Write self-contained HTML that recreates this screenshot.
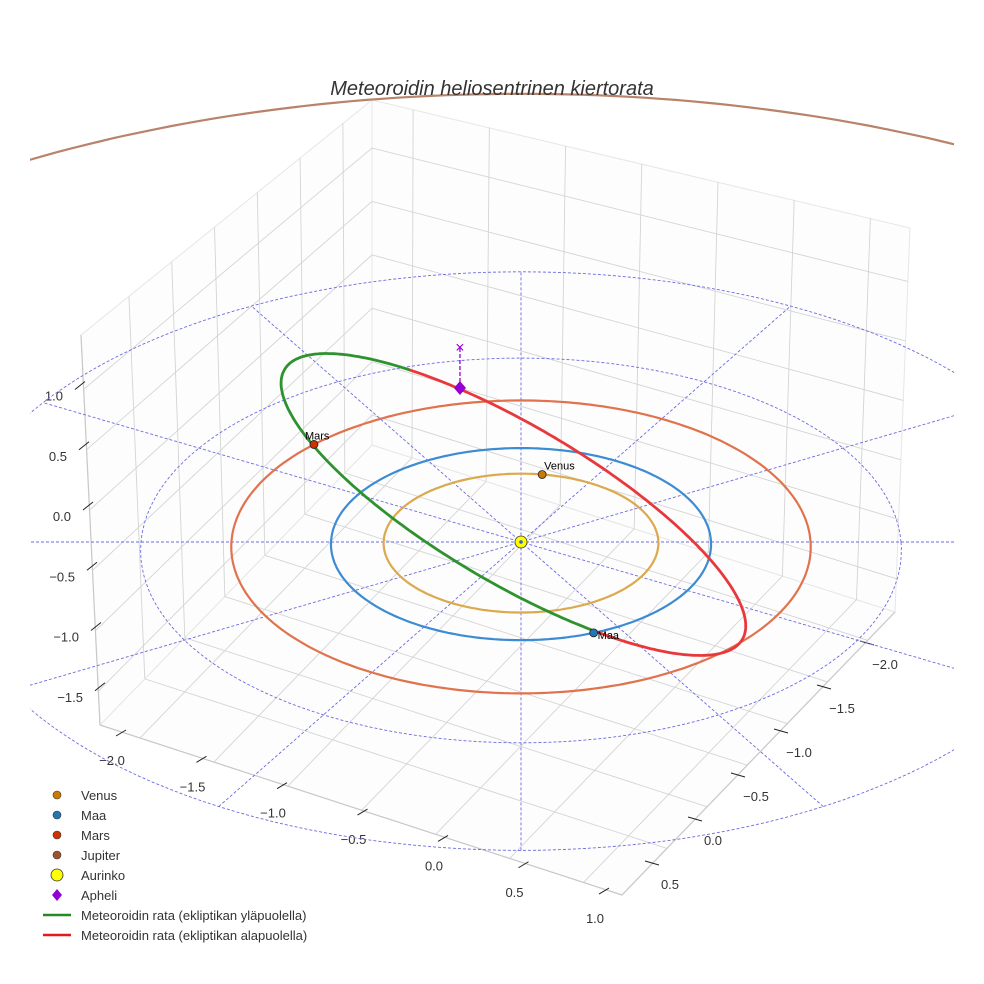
<!DOCTYPE html>
<html><head><meta charset="utf-8"><title>Meteoroidin heliosentrinen kiertorata</title>
<style>
html,body{margin:0;padding:0;background:#fff;width:984px;height:984px;overflow:hidden;}
svg{display:block;font-family:"Liberation Sans",sans-serif;}
</style></head>
<body>
<svg id="chart" width="984" height="984" viewBox="0 0 984 984" xmlns="http://www.w3.org/2000/svg">
<defs><clipPath id="clip"><rect x="30" y="0" width="924" height="984"/></clipPath></defs>
<rect width="984" height="984" fill="#fff"/>
<g id="box"></g>
<g id="ticks"></g>
<g id="data" clip-path="url(#clip)"></g>
<text x="492" y="95" text-anchor="middle" font-size="20" font-style="italic" fill="#333">Meteoroidin heliosentrinen kiertorata</text>
<g id="legend"></g>
</svg>
<script>
// ---- data ----
const planetNames = ['Venus','Maa','Mars','Jupiter'];
const planetA = [0.723, 1.0, 1.524, 5.203];
const planetAngleDeg = [81, -68, 137, 200];
const planetOrbitColors = ['#dba94e','#3d8bd2','#e0734d','#b9836b'];
const planetDotColors = ['#cc7a00','#1f77b4','#cc3300','#a0522d'];
const gridRadii = [1, 2, 3];
const gridAnglesDeg = [0, 30, 60, 90, 120, 150];
const meteorCenter = [-0.075, 0.45];
const meteorAxes = [1.93, 0.61];      // semi-major, semi-minor (AU)
const meteorDir = [-0.587, 0.809];   // major axis unit vector toward aphelion
const meteorNodesDeg = [226, 400.6]; // above-ecliptic arc between these params
const apheli = [-0.333, 1.663, 0.35];
const xTicks = [-2.0,-1.5,-1.0,-0.5,0.0,0.5,1.0];
const yTicks = [-2.0,-1.5,-1.0,-0.5,0.0,0.5];
const zTicks = [-1.5,-1.0,-0.5,0.0,0.5,1.0];
const xLimits = [-2.27, 1.26];
const yLimits = [-2.34, 1.06];
const zLimits = [-1.78, 1.45];

const NS='http://www.w3.org/2000/svg';
function el(tag, attrs, parent){const e=document.createElementNS(NS,tag);for(const k in attrs)e.setAttribute(k,attrs[k]);parent.appendChild(e);return e;}
const k=0.022;
function P(X,Y,Z){Z=Z||0;const s=1/(1+k*Y);return [521+190*X*s, 542-(96*Y+120*Z)*s];}
function fmt(v){return (v<0?'\u2212':'')+Math.abs(v).toFixed(1);}

// ---- box ----
const box=document.getElementById('box');
function bil(q,u,v){return [(1-u)*(1-v)*q[0][0]+u*(1-v)*q[1][0]+u*v*q[2][0]+(1-u)*v*q[3][0],
 (1-u)*(1-v)*q[0][1]+u*(1-v)*q[1][1]+u*v*q[2][1]+(1-u)*v*q[3][1]];}
const floorQ=[[372,445],[895,612],[622,895],[100,725]];
const leftQ=[[372,445],[100,725],[81,335],[372,100]];
const rightQ=[[372,445],[895,612],[910,228],[372,100]];
const fx=x=>(x-xLimits[0])/(xLimits[1]-xLimits[0]);
const fy=y=>(y-yLimits[0])/(yLimits[1]-yLimits[0]);
const fz=z=>(z-zLimits[0])/(zLimits[1]-zLimits[0]);
function gl(a,b,name,col,w){const l=el('line',{x1:a[0],y1:a[1],x2:b[0],y2:b[1],stroke:col||'#d4d4d4','stroke-width':w||0.9},box);

}
[floorQ,leftQ,rightQ].forEach((q,i)=>{const p=el('polygon',{points:q.map(p=>p.join(',')).join(' '),fill:'#fdfdfd',stroke:'#e6e6e6','stroke-width':1},box);

});
xTicks.forEach(x=>{gl(bil(floorQ,fx(x),0),bil(floorQ,fx(x),1),'floor-grid-x');gl(bil(rightQ,fx(x),0),bil(rightQ,fx(x),1),'wall-grid-x');});
yTicks.forEach(y=>{gl(bil(floorQ,0,fy(y)),bil(floorQ,1,fy(y)),'floor-grid-y');gl(bil(leftQ,fy(y),0),bil(leftQ,fy(y),1),'wall-grid-y');});
zTicks.forEach(z=>{gl(bil(leftQ,0,fz(z)),bil(leftQ,1,fz(z)),'wall-grid-z');gl(bil(rightQ,0,fz(z)),bil(rightQ,1,fz(z)),'wall-grid-z');});
gl(floorQ[3],floorQ[2],'x-axis-line','#c8c8c8',1.2);
gl(floorQ[1],floorQ[2],'y-axis-line','#c8c8c8',1.2);
gl(leftQ[1],leftQ[2],'z-axis-line','#c8c8c8',1.2);

// ---- ticks & labels ----
const tk=document.getElementById('ticks');
function tick(cx,cy,dx,dy,lx,ly,txt,name,anchor){
 const l=el('line',{x1:cx-dx,y1:cy-dy,x2:cx+dx,y2:cy+dy,stroke:'#222','stroke-width':1},tk);
 
 
 const t=el('text',{x:lx,y:ly,'font-size':13,fill:'#333','text-anchor':anchor||'middle'},tk);
 t.textContent=txt;
 
 }
xTicks.forEach(v=>{const lx=112+(v+2)*161,ly=765+(v+2)*52.7;tick(lx+9,ly-32,5,-3,lx,ly,fmt(v),'x-axis');});
yTicks.forEach(v=>{const lx=885-(v+2)*86,ly=669+(v+2)*88;tick(lx-18,ly-26,7,2,lx,ly,fmt(v),'y-axis');});
zTicks.forEach(v=>{const y=516-v*120.5;const ex=71-v*8;tick(ex+17,y-10,5,-4,ex,y+5,fmt(v),'z-axis','end');});

// ---- data layer ----
const g=document.getElementById('data');
function pathOf(pts){return pts.map((p,i)=>(i?'L':'M')+p[0].toFixed(1)+','+p[1].toFixed(1)).join('');}
gridRadii.forEach(r=>{const pts=[];for(let a=0;a<=360;a+=2){const t=a*Math.PI/180;pts.push(P(r*Math.cos(t),r*Math.sin(t)));}
 const p=el('path',{d:pathOf(pts),fill:'none',stroke:'#6b6be0','stroke-width':0.9,'stroke-dasharray':'3 2'},g);
 
 });
gridAnglesDeg.forEach(a=>{const t=a*Math.PI/180,R=gridRadii[gridRadii.length-1];
 const p1=P(-R*Math.cos(t),-R*Math.sin(t)),p2=P(R*Math.cos(t),R*Math.sin(t));
 const l=el('line',{x1:p1[0],y1:p1[1],x2:p2[0],y2:p2[1],stroke:'#6b6be0','stroke-width':0.9,'stroke-dasharray':'3 2'},g);
 
 });
planetNames.forEach((n,i)=>{const pts=[];for(let a=0;a<=360;a+=1){const t=a*Math.PI/180;pts.push(P(planetA[i]*Math.cos(t),planetA[i]*Math.sin(t)));}
 const p=el('path',{d:pathOf(pts),fill:'none',stroke:planetOrbitColors[i],'stroke-width':2.2},g);
 
 });
function mpt(deg){const t=deg*Math.PI/180;const v=[meteorDir[1],-meteorDir[0]];
 const a=meteorAxes[0]*Math.cos(t),b=meteorAxes[1]*Math.sin(t);
 return P(meteorCenter[0]+a*meteorDir[0]+b*v[0], meteorCenter[1]+a*meteorDir[1]+b*v[1]);}
const up=[],down=[];
for(let d=meteorNodesDeg[0];d<=meteorNodesDeg[1];d+=1)up.push(mpt(d));
up.push(mpt(meteorNodesDeg[1]));
for(let d=meteorNodesDeg[1];d<=meteorNodesDeg[0]+360;d+=1)down.push(mpt(d));
down.push(mpt(meteorNodesDeg[0]+360));
const pr=el('path',{d:pathOf(down),fill:'none',stroke:'#e8383c','stroke-width':2.8,'stroke-linecap':'round'},g);


const pg=el('path',{d:pathOf(up),fill:'none',stroke:'#2e922e','stroke-width':2.8,'stroke-linecap':'round'},g);


const ap=P(apheli[0],apheli[1],0),ax=P(apheli[0],apheli[1],apheli[2]);
const al=el('line',{x1:ap[0],y1:ap[1],x2:ax[0],y2:ax[1],stroke:'#9400d3','stroke-width':1.3,'stroke-dasharray':'4 2'},g);


const am=el('text',{x:ax[0],y:ax[1]+5,'font-size':16,fill:'#9400d3','text-anchor':'middle'},g);
am.textContent='\u00d7';


const ad=el('polygon',{points:`${ap[0]},${ap[1]-7} ${ap[0]+6},${ap[1]} ${ap[0]},${ap[1]+7} ${ap[0]-6},${ap[1]}`,fill:'#9400d3'},g);


planetNames.forEach((n,i)=>{const t=planetAngleDeg[i]*Math.PI/180;const p=P(planetA[i]*Math.cos(t),planetA[i]*Math.sin(t));
 const c=el('circle',{cx:p[0],cy:p[1],r:4,fill:planetDotColors[i],stroke:'#222','stroke-width':0.8},g);
 
 
 if(i<3){const tx=el('text',{x:p[0]+(i==2?-9:i==1?4:2),y:p[1]+(i==1?6:-5),'font-size':11,fill:'#000'},g);
 tx.textContent=n;
 
 }});
const sp=P(0,0);
const sun=el('circle',{cx:sp[0],cy:sp[1],r:6,fill:'#ffff00',stroke:'#333','stroke-width':0.8},g);


const sd=el('circle',{cx:sp[0],cy:sp[1],r:1.8,fill:'#3d5fd0'},g);



// ---- legend ----
const lg=document.getElementById('legend');
const legendLabels=['Venus','Maa','Mars','Jupiter','Aurinko','Apheli','Meteoroidin rata (ekliptikan yläpuolella)','Meteoroidin rata (ekliptikan alapuolella)'];
legendLabels.forEach((lab,i)=>{const y=795+i*20;const x=57;let m;
 if(i<4){m=el('circle',{cx:x,cy:y,r:4,fill:planetDotColors[i],stroke:'#333','stroke-width':0.6},lg);}
 else if(i==4){m=el('circle',{cx:x,cy:y,r:6,fill:'#ffff00',stroke:'#333','stroke-width':0.8},lg);}
 else if(i==5){m=el('polygon',{points:`${x},${y-6} ${x+5},${y} ${x},${y+6} ${x-5},${y}`,fill:'#9400d3'},lg);}
 else {m=el('line',{x1:43,y1:y,x2:71,y2:y,stroke:i==6?'#228b22':'#e31a1c','stroke-width':2.4},lg);}
 
 
 const t=el('text',{x:81,y:y+5,'font-size':13,fill:'#333'},lg);
 t.textContent=lab;
 
 });
</script>
</body></html>
